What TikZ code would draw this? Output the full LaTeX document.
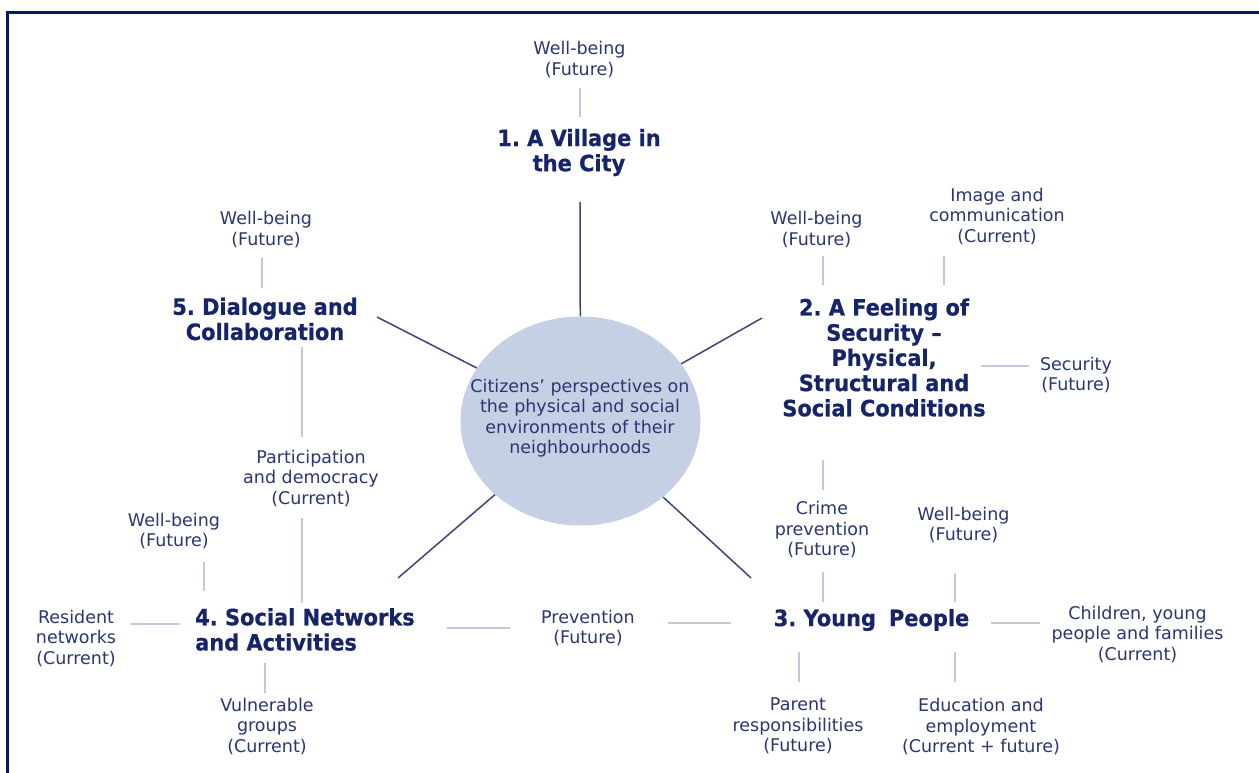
\documentclass[tikz,border=0pt]{standalone}
\usepackage{fontspec}
\setmainfont{DejaVu Sans}
\newfontfamily\titlefont{DejaVu Sans}[FakeStretch=0.93, BoldFeatures={FakeBold=0.6}]
\usetikzlibrary{shapes.geometric}
\frenchspacing

\definecolor{framecol}{HTML}{001A66}
\definecolor{titlecol}{HTML}{16256A}
\definecolor{labelcol}{HTML}{2A3673}
\definecolor{spokecol}{HTML}{3A4778}
\definecolor{linkcol}{HTML}{C0CADF}
\definecolor{hubcol}{HTML}{C6D0E4}

\begin{document}
\begin{tikzpicture}[x=1pt,y=-1pt,
  label/.style={font=\fontsize{17.5}{20.5}\selectfont, text=labelcol, align=center, inner sep=0pt},
  theme/.style={font=\titlefont\bfseries\fontsize{22.5}{25.2}\selectfont, text=titlecol, align=center, inner sep=0pt},
  spoke/.style={draw=spokecol, line width=1.5pt},
  link/.style={draw=linkcol, line width=1.5pt},
  frameline/.style={draw=framecol, line width=2.4pt}]

\useasboundingbox[fill=white] (0,0) rectangle (1259,773);

% outer frame
\draw[frameline] (1259,12.5) -- (7.5,12.5) -- (7.5,773);

% central hub
\node[ellipse, fill=hubcol, minimum width=240pt, minimum height=209pt, inner sep=0pt] (hub) at (580.5,421) {};
\node[label] (hubtext) at (580,418) {Citizens’ perspectives on\\the physical and social\\environments of their\\neighbourhoods};

% the five themes
\node[theme] (t1) at (579,152.5) {1. A Village in\\the City};
\node[theme] (t2) at (884,357.5) {2. A Feeling of\\Security –\\Physical,\\Structural and\\Social Conditions};
\node[theme] (t3) at (871.5,620) {3. Young\hspace{13pt}People};
\node[theme, align=left, anchor=west] (t4) at (195,629.5) {4. Social Networks\\and Activities};
\node[theme] (t5) at (265,319) {5. Dialogue and\\Collaboration};

% spoke ends
\coordinate (s1) at (580,202);
\coordinate (s2) at (762,318);
\coordinate (s3) at (751,578);
\coordinate (s4) at (398,578);
\coordinate (s5) at (377,317);
\foreach \s in {s1,s2,s3,s4,s5} \draw[spoke] (hub) -- (\s);

% sub-themes
\node[label] (wb1) at (579.5,59.5) {Well-being\\(Future)};
\node[label] (wb5) at (266,229.5) {Well-being\\(Future)};
\node[label] (wb2) at (816.5,229.5) {Well-being\\(Future)};
\node[label] (img) at (997,216.5) {Image and\\communication\\(Current)};
\node[label] (sec) at (1076,375) {Security\\(Future)};
\node[label] (crime) at (822,530) {Crime\\prevention\\(Future)};
\node[label] (par) at (311,478.5) {Participation\\and democracy\\(Current)};
\node[label] (wb4) at (174,531) {Well-being\\(Future)};
\node[label] (res) at (76,638.5) {Resident\\networks\\(Current)};
\node[label] (vul) at (267,726) {Vulnerable\\groups\\(Current)};
\node[label] (prev) at (588,628) {Prevention\\(Future)};
\node[label] (wb3) at (963.5,525) {Well-being\\(Future)};
\node[label] (chi) at (1137.5,634.5) {Children, young\\people and families\\(Current)};
\node[label] (parent) at (798,726) {Parent\\responsibilities\\(Future)};
\node[label] (edu) at (981,726.5) {Education and\\employment\\(Current + future)};

% thin links between themes and sub-themes
\coordinate (a1) at (580,88);   \coordinate (b1) at (580,117);
\coordinate (a2) at (262,258);  \coordinate (b2) at (262,288);
\coordinate (a3) at (302,347);  \coordinate (b3) at (302,437);
\coordinate (a4) at (302,518);  \coordinate (b4) at (302,603);
\coordinate (a5) at (823,256);  \coordinate (b5) at (823,285);
\coordinate (a6) at (944,256);  \coordinate (b6) at (944,285);
\coordinate (a7) at (981,366);  \coordinate (b7) at (1029,366);
\coordinate (a8) at (823,460);  \coordinate (b8) at (823,490);
\coordinate (a9) at (823,572);  \coordinate (b9) at (823,602);
\coordinate (a10) at (955,573); \coordinate (b10) at (955,602);
\coordinate (a11) at (991,623); \coordinate (b11) at (1040,623);
\coordinate (a12) at (799,652); \coordinate (b12) at (799,682);
\coordinate (a13) at (955,652); \coordinate (b13) at (955,682);
\coordinate (a14) at (447,628); \coordinate (b14) at (510,628);
\coordinate (a15) at (668,623); \coordinate (b15) at (731,623);
\coordinate (a16) at (204,562); \coordinate (b16) at (204,591);
\coordinate (a17) at (131,624); \coordinate (b17) at (180,624);
\coordinate (a18) at (265,663); \coordinate (b18) at (265,693);
\foreach \i in {1,...,18} \draw[link] (a\i) -- (b\i);

\end{tikzpicture}
\end{document}
